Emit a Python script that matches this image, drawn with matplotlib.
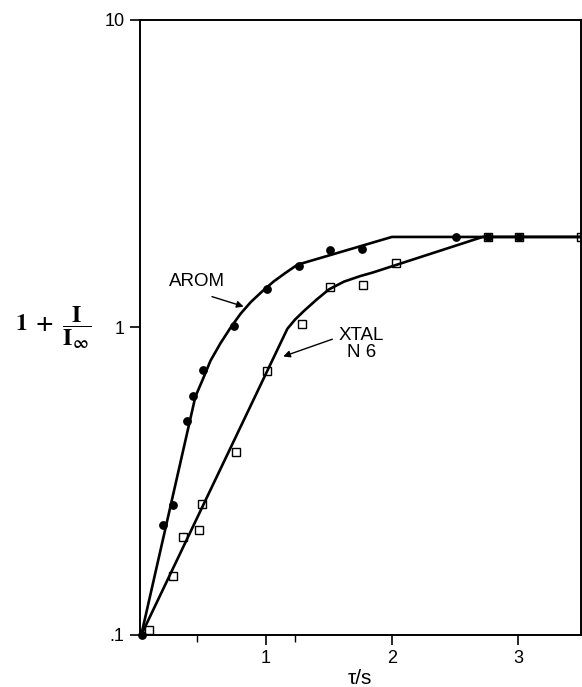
import matplotlib
matplotlib.use("Agg")
import matplotlib.pyplot as plt
from matplotlib.ticker import FixedLocator, FixedFormatter, NullLocator

plt.rcParams['font.family'] = ['Liberation Sans', 'DejaVu Sans']
plt.rcParams['mathtext.fontset'] = 'stix'

# measured points (tau/s, 1 + I/I_inf)
arom_x = [0.014, 0.18, 0.265, 0.372, 0.42, 0.50, 0.743, 1.01, 1.26, 1.51, 1.76, 2.51, 2.76, 3.01]
arom_y = [0.1, 0.228, 0.264, 0.495, 0.60, 0.728, 1.01, 1.33, 1.58, 1.78, 1.80, 1.97, 1.97, 1.97]
xtal_x = [0.072, 0.26, 0.345, 0.47, 0.49, 0.76, 1.01, 1.29, 1.51, 1.77, 2.03, 2.76, 3.01, 3.5]
xtal_y = [0.104, 0.156, 0.209, 0.22, 0.266, 0.394, 0.72, 1.025, 1.35, 1.37, 1.62, 1.97, 1.97, 1.97]

# fitted curves
arom_fit_x = [0.01, 0.44, 0.50, 0.56, 0.64, 0.72, 0.80, 0.88, 0.97, 1.06, 1.15, 1.25, 2.0, 3.5]
arom_fit_y = [0.1, 0.596, 0.68, 0.78, 0.89, 1.00, 1.11, 1.21, 1.31, 1.41, 1.50, 1.60, 1.97, 1.97]
xtal_fit_x = [0.01, 1.17, 1.23, 1.30, 1.40, 1.50, 1.62, 1.75, 1.85, 2.72, 3.5]
xtal_fit_y = [0.1, 0.99, 1.06, 1.13, 1.23, 1.33, 1.41, 1.47, 1.51, 1.97, 1.97]

fig = plt.figure(figsize=(5.82, 6.87), dpi=100)
ax = fig.add_axes([0.2405, 0.0757, 0.7575, 0.8952])

ax.plot(arom_fit_x, arom_fit_y, color='black', lw=1.9, solid_joinstyle='round')
ax.plot(xtal_fit_x, xtal_fit_y, color='black', lw=1.9, solid_joinstyle='round')
ax.plot(xtal_x, xtal_y, ls='none', marker='s', ms=5.5, mfc='none', mec='black', mew=1.0, clip_on=False)
ax.plot(arom_x, arom_y, ls='none', marker='o', ms=5.3, color='black', clip_on=False)

ax.set_yscale('log')
ax.set_xlim(0, 3.5)
ax.set_ylim(0.1, 10)

ax.yaxis.set_major_locator(FixedLocator([0.1, 1, 10]))
ax.yaxis.set_major_formatter(FixedFormatter(['.1', '1', '10']))
ax.yaxis.set_minor_locator(NullLocator())
ax.xaxis.set_major_locator(FixedLocator([1, 2, 3]))
ax.xaxis.set_major_formatter(FixedFormatter(['1', '2', '3']))
ax.xaxis.set_minor_locator(FixedLocator([0.45, 1.23]))
ax.tick_params(which='major', direction='out', length=7, width=1.2, labelsize=13, pad=4)
ax.tick_params(which='minor', direction='out', length=5, width=1.0)

for sp in ax.spines.values():
    sp.set_linewidth(1.4)

ax.set_xlabel('τ/s', fontsize=15, labelpad=1)
ax.set_ylabel(r'$\mathbf{1\ +\ \dfrac{I}{I_{\infty}}}$', fontsize=17, rotation=0, ha='right', va='center')
ax.yaxis.set_label_coords(-0.11, 0.5)

ax.text(0.454, 1.41, 'AROM', fontsize=13.5, ha='center', va='center')
ax.annotate('', xy=(0.823, 1.17), xytext=(0.572, 1.26),
            arrowprops=dict(arrowstyle='-|>', color='black', lw=1.0, shrinkA=0, shrinkB=0,
                            mutation_scale=10))
ax.text(1.76, 0.887, 'XTAL\nN 6', fontsize=13.5, ha='center', va='center', linespacing=1.0)
ax.annotate('', xy=(1.137, 0.805), xytext=(1.527, 0.916),
            arrowprops=dict(arrowstyle='-|>', color='black', lw=1.0, shrinkA=0, shrinkB=0,
                            mutation_scale=10))

fig.savefig('out.png', dpi=100)
